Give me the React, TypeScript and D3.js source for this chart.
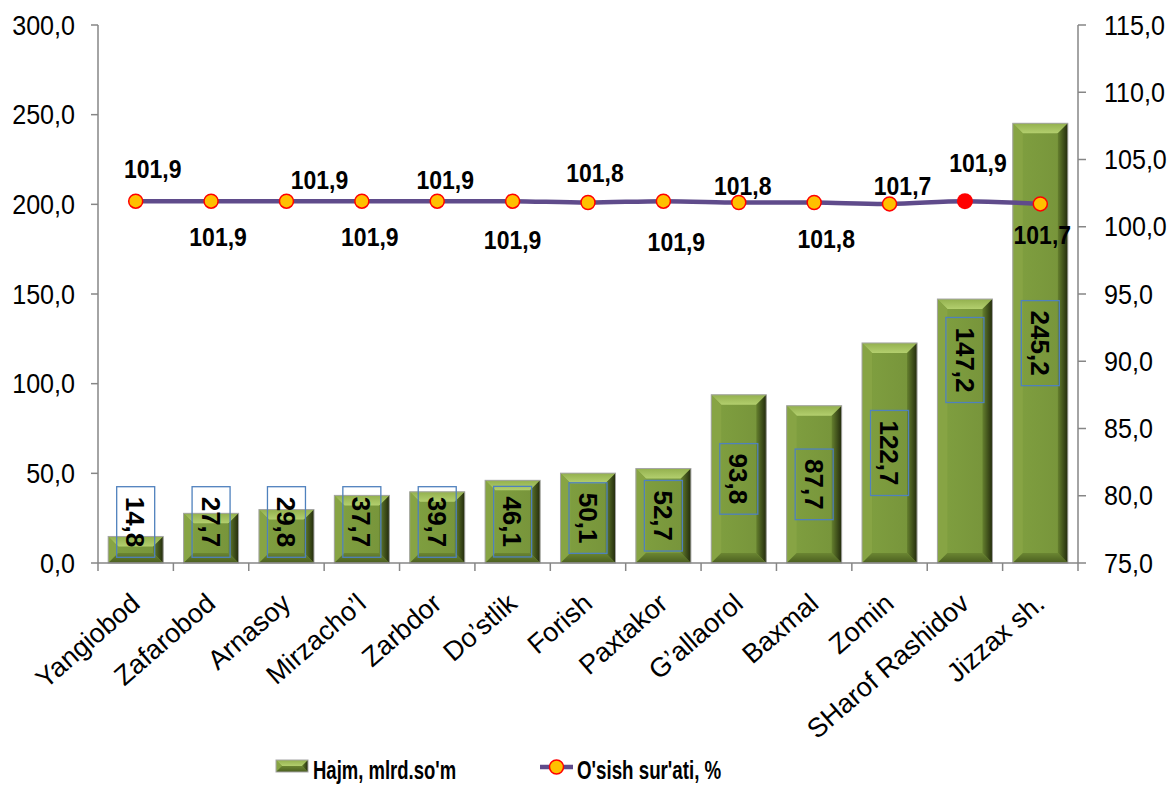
import React from 'react';
import * as d3 from 'd3';

const categories = [
  'Yangiobod', 'Zafarobod', 'Arnasoy', 'Mirzacho’l', 'Zarbdor', 'Do’stlik', 'Forish',
  'Paxtakor', 'G’allaorol', 'Baxmal', 'Zomin', 'SHarof Rashidov', 'Jizzax sh.',
];
const volume = [14.8, 27.7, 29.8, 37.7, 39.7, 46.1, 50.1, 52.7, 93.8, 87.7, 122.7, 147.2, 245.2];
const growth = [101.9, 101.9, 101.9, 101.9, 101.9, 101.9, 101.8, 101.9, 101.8, 101.8, 101.7, 101.9, 101.7];
const leftTicks = [0, 50, 100, 150, 200, 250, 300];
const rightTicks = [75, 80, 85, 90, 95, 100, 105, 110, 115];
const seriesNames = ["Hajm, mlrd.so'm", "O'sish sur'ati, %"];
const highlightIndex = 11;

// layout of the line data labels (pixel offsets from their point)
const lineLabelOffsets: [number, number][] = [
  [17, -32], [7, 36], [33, -21], [8, 36], [8, -21], [0, 39], [7, -30],
  [13, 41], [4, -17], [12, 36], [13, -18], [13, -38], [2, 31],
];

const W = 1171;
const H = 787;
const LEFT = 98;
const RIGHT = 1078;
const TOP = 25;
const BOTTOM = 563;
const FONT = "'Liberation Sans', Arial, sans-serif";

function Bar({ x, y, w, h }: { x: number; y: number; w: number; h: number }) {
  const b = Math.min(10, h / 2, w / 2);
  const x2 = x + w;
  const y2 = y + h;
  const p = (pts: number[][]) => pts.map((q) => q.join(',')).join(' ');
  return (
    <g>
      <rect x={x} y={y} width={w} height={h} fill="url(#gCenter)" />
      <polygon points={p([[x, y], [x2, y], [x2 - b, y + b], [x + b, y + b]])} fill="url(#gTop)" />
      <polygon points={p([[x, y], [x + b, y + b], [x + b, y2 - b], [x, y2]])} fill="#87a444" />
      <polygon points={p([[x2, y], [x2, y2], [x2 - b, y2 - b], [x2 - b, y + b]])} fill="url(#gRight)" />
      <polygon points={p([[x, y2], [x + b, y2 - b], [x2 - b, y2 - b], [x2, y2]])} fill="url(#gBottom)" />
      <rect x={x} y={y} width={w} height={h} fill="none" stroke="#a5a5a5" strokeWidth={1} />
    </g>
  );
}

export default function App() {
  const x = d3
    .scaleBand<string>()
    .domain(categories)
    .range([LEFT, RIGHT])
    .paddingInner(0.27)
    .paddingOuter(0.135);
  const yL = d3.scaleLinear().domain([0, 300]).range([BOTTOM, TOP]);
  const yR = d3.scaleLinear().domain([75, 115]).range([BOTTOM, TOP]);
  const fmt = (v: number) => d3.format('.1f')(v).replace('.', ',');
  const cx = (i: number) => (x(categories[i]) as number) + x.bandwidth() / 2;
  const step = x.step();
  const bounds = d3.range(categories.length + 1).map((i) => LEFT + i * step);

  const line = d3
    .line<number>()
    .x((_, i) => cx(i))
    .y((d) => yR(d))
    .curve(d3.curveCatmullRom.alpha(0.5));

  const barLabelFont = 26;
  const charW = (s: string) =>
    s.split('').reduce((a, c) => a + (c === ',' ? 0.278 : 0.556), 0) * barLabelFont;

  return (
    <svg
      width={W}
      height={H}
      style={{ position: 'absolute', left: 0, top: 0, background: '#fff' }}
      fontFamily={FONT}
    >
      <defs>
        <linearGradient id="gCenter" x1="0" y1="0" x2="1" y2="0">
          <stop offset="0" stopColor="#80a040" />
          <stop offset="1" stopColor="#76933a" />
        </linearGradient>
        <linearGradient id="gTop" x1="0" y1="0" x2="0" y2="1">
          <stop offset="0" stopColor="#93b04e" />
          <stop offset="1" stopColor="#b3cf6e" />
        </linearGradient>
        <linearGradient id="gRight" x1="0" y1="0" x2="1" y2="0">
          <stop offset="0" stopColor="#65802e" />
          <stop offset="1" stopColor="#222a0c" />
        </linearGradient>
        <linearGradient id="gBottom" x1="0" y1="0" x2="0" y2="1">
          <stop offset="0" stopColor="#6b8632" />
          <stop offset="1" stopColor="#4a5e1f" />
        </linearGradient>
      </defs>

      {/* bars */}
      {volume.map((v, i) => {
        const bx = x(categories[i]) as number;
        const by = yL(v);
        return <Bar key={i} x={bx} y={by} w={x.bandwidth()} h={BOTTOM - by} />;
      })}

      {/* axes */}
      <g stroke="#868686" strokeWidth={1.5} fill="none">
        <line x1={LEFT} y1={TOP} x2={LEFT} y2={BOTTOM} />
        <line x1={RIGHT} y1={TOP} x2={RIGHT} y2={BOTTOM} />
        <line x1={LEFT} y1={BOTTOM} x2={RIGHT} y2={BOTTOM} />
        {leftTicks.map((t) => (
          <line key={'l' + t} x1={LEFT - 7} x2={LEFT} y1={yL(t)} y2={yL(t)} />
        ))}
        {rightTicks.map((t) => (
          <line key={'r' + t} x1={RIGHT} x2={RIGHT + 8} y1={yR(t)} y2={yR(t)} />
        ))}
        {bounds.map((b, i) => (
          <line key={'b' + i} x1={b} x2={b} y1={BOTTOM} y2={BOTTOM + 8} />
        ))}
      </g>
      {leftTicks.map((t) => (
        <text
          key={'lt' + t}
          transform={`translate(75,${yL(t)}) scale(0.93,1)`}
          dy="0.36em"
          textAnchor="end"
          fontSize={27}
          fill="#000"
        >
          {fmt(t)}
        </text>
      ))}
      {rightTicks.map((t) => (
        <text
          key={'rt' + t}
          transform={`translate(1104,${yR(t)}) scale(0.93,1)`}
          dy="0.36em"
          textAnchor="start"
          fontSize={27}
          fill="#000"
        >
          {fmt(t)}
        </text>
      ))}

      {/* category labels */}
      {categories.map((c, i) => (
        <text
          key={c}
          transform={`translate(${cx(i) + 6},${606}) rotate(-41)`}
          textAnchor="end"
          fontSize={27}
          fill="#000"
        >
          {c}
        </text>
      ))}

      {/* bar value labels */}
      {volume.map((v, i) => {
        const s = fmt(v);
        const len = charW(s);
        let cy = Math.min(yL(v / 2), 522);
        if (i === 11) cy = 360;
        const bh = len + 20;
        const bw = 38;
        return (
          <g key={'bl' + i}>
            <rect
              x={cx(i) - bw / 2}
              y={cy - bh / 2}
              width={bw}
              height={bh}
              fill="none"
              stroke="#4f81bd"
              strokeWidth={1.3}
            />
            <text
              transform={`translate(${cx(i)},${cy}) rotate(90)`}
              textAnchor="middle"
              dy="0.36em"
              fontSize={barLabelFont}
              fontWeight="bold"
              fill="#000"
            >
              {s}
            </text>
          </g>
        );
      })}

      {/* line */}
      <path d={line(growth) || ''} fill="none" stroke="#5f4b8b" strokeWidth={4.5} strokeLinejoin="round" />
      {growth.map((g, i) =>
        i === highlightIndex ? (
          <circle key={'p' + i} cx={cx(i)} cy={yR(g)} r={8} fill="#ff0000" />
        ) : (
          <circle key={'p' + i} cx={cx(i)} cy={yR(g)} r={7} fill="#ffc000" stroke="#ff0000" strokeWidth={1.5} />
        )
      )}
      {growth.map((g, i) => (
        <text
          key={'gl' + i}
          transform={`translate(${cx(i) + lineLabelOffsets[i][0]},${yR(g) + lineLabelOffsets[i][1]}) scale(0.92,1)`}
          dy="0.36em"
          textAnchor="middle"
          fontSize={25}
          fontWeight="bold"
          fill="#000"
        >
          {fmt(g)}
        </text>
      ))}

      {/* legend */}
      <g>
        <Bar x={276} y={760} w={32} h={12} />
        <text transform="translate(313,779) scale(0.74,1)" fontWeight="bold" fontSize={25} fill="#000">
          {seriesNames[0]}
        </text>
        <line x1={540} x2={573} y1={767} y2={767} stroke="#5f4b8b" strokeWidth={4.5} />
        <circle cx={556.5} cy={767} r={7} fill="#ffc000" stroke="#ff0000" strokeWidth={1.5} />
        <text transform="translate(577,779) scale(0.75,1)" fontWeight="bold" fontSize={25} fill="#000">
          {seriesNames[1]}
        </text>
      </g>
    </svg>
  );
}
